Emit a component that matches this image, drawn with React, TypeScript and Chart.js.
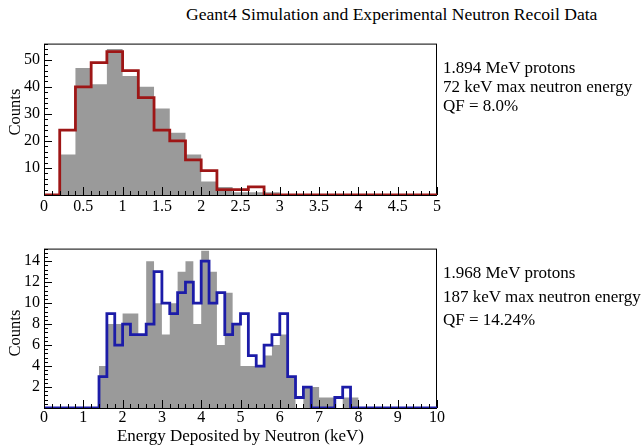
import React, { useEffect, useRef } from 'react';
import { Chart, registerables } from 'chart.js';

Chart.register(...registerables);

// ---------- data ----------
const BIN_WIDTH = 0.2;

// top panel (1.894 MeV protons), bins of 0.2 keV starting at 0
const TOP_X_MAX = 5;
const TOP_Y_MAX = 56;
const TOP_SIM = [0, 15, 47, 41, 54, 44, 40, 32, 23, 15, 5, 3, 1, 1, 1, 0, 0, 0, 0, 0, 0, 0, 0, 0, 0];
const TOP_EXP = [0, 24, 40, 49, 53, 46, 36, 24, 20, 13, 9, 2, 2, 3, 0, 0, 0, 0, 0, 0, 0, 0, 0, 0, 0];
const TOP_X_LABELS = [0, 0.5, 1, 1.5, 2, 2.5, 3, 3.5, 4, 4.5, 5];
const TOP_X_MINOR = 0.1;
const TOP_Y_LABELS = [10, 20, 30, 40, 50];
const TOP_Y_MINOR = 2;
const TOP_NOTES = ['1.894 MeV protons', '72 keV max neutron energy', 'QF = 8.0%'];

// bottom panel (1.968 MeV protons)
const BOT_X_MAX = 10;
const BOT_Y_MAX = 15.2;
const BOT_SIM = [
  0, 0, 0, 0, 0, 0, 0, 4, 8, 8,
  9, 9, 7, 14, 10, 7, 10, 13, 14, 8,
  15, 13, 6, 11, 8, 4, 4, 4, 5, 6,
  7, 3, 0, 2, 2, 1, 1, 0, 1, 1,
  0, 0, 0, 0, 0, 0, 0, 0, 0, 0,
];
const BOT_EXP = [
  0, 0, 0, 0, 0, 0, 0, 3, 9, 6,
  8, 7, 7, 8, 13, 10, 9, 11, 12, 10,
  14, 10, 11, 7, 8, 9, 5, 4, 6, 7,
  9, 3, 1, 2, 0, 0, 0, 1, 2, 0,
  0, 0, 0, 0, 0, 0, 0, 0, 0, 0,
];
const BOT_X_LABELS = [0, 1, 2, 3, 4, 5, 6, 7, 8, 9, 10];
const BOT_X_MINOR = 0.2;
const BOT_Y_LABELS = [2, 4, 6, 8, 10, 12, 14];
const BOT_Y_MINOR = 0.4;
const BOT_NOTES = ['1.968 MeV protons', '187 keV max neutron energy', 'QF = 14.24%'];

const TITLE = 'Geant4 Simulation and Experimental Neutron Recoil Data';
const X_TITLE = 'Energy Deposited by Neutron (keV)';
const Y_TITLE = 'Counts';

const SERIF = "'Liberation Serif', 'DejaVu Serif', serif";

function toSteps(values: number[], xMax: number) {
  const pts = values.map((v, i) => ({ x: +(i * BIN_WIDTH).toFixed(4), y: v }));
  pts.push({ x: xMax, y: values[values.length - 1] });
  return pts;
}

const isIn = (v: number, list: number[]) => list.some((l) => Math.abs(l - v) < 1e-6);

const frameTicksPlugin = {
  id: 'frameTicks',
  beforeDatasetsDraw(chart: any) {
    const { ctx, chartArea } = chart;
    ctx.save();
    ctx.strokeStyle = '#000';
    ctx.lineWidth = 1;
    ctx.strokeRect(chartArea.left + 0.5, chartArea.top + 0.5, chartArea.right - chartArea.left - 1, chartArea.bottom - chartArea.top);
    ctx.restore();
  },
  afterDatasetsDraw(chart: any, _args: any, opts: any) {
    const { ctx, chartArea } = chart;
    const xs = chart.scales.x;
    const ys = chart.scales.y;
    ctx.save();
    ctx.strokeStyle = '#000';
    ctx.lineWidth = 1;
    ctx.beginPath();
    xs.ticks.forEach((t: any) => {
      const px = Math.round(xs.getPixelForValue(t.value)) + 0.5;
      const len = isIn(t.value, opts.xMajor) ? 8 : 4;
      ctx.moveTo(px, chartArea.bottom);
      ctx.lineTo(px, chartArea.bottom - len);
    });
    ys.ticks.forEach((t: any) => {
      const py = Math.round(ys.getPixelForValue(t.value)) + 0.5;
      const len = isIn(t.value, opts.yMajor) ? 8 : 4;
      ctx.moveTo(chartArea.left, py);
      ctx.lineTo(chartArea.left + len, py);
    });
    ctx.stroke();
    ctx.beginPath();
    ctx.moveTo(chartArea.left, Math.round(chartArea.bottom) + 0.5);
    ctx.lineTo(chartArea.right, Math.round(chartArea.bottom) + 0.5);
    ctx.stroke();
    ctx.restore();
  },
};

type PanelProps = {
  sim: number[];
  exp: number[];
  color: string;
  xMax: number;
  yMax: number;
  xLabels: number[];
  xMinor: number;
  yLabels: number[];
  yMinor: number;
  width: number;
  height: number;
  xPad: number;
};

function Panel(p: PanelProps) {
  const ref = useRef<HTMLCanvasElement>(null);
  useEffect(() => {
    if (!ref.current) return;
    const fmt = (v: number) => String(+v.toFixed(2));
    const chart = new Chart(ref.current, {
      type: 'line',
      data: {
        datasets: [
          {
            data: toSteps(p.exp, p.xMax),
            stepped: true,
            borderColor: p.color,
            borderWidth: 2.8,
            pointRadius: 0,
            fill: false,
            order: 0,
          },
          {
            data: toSteps(p.sim, p.xMax),
            stepped: true,
            borderColor: 'rgba(0,0,0,0)',
            borderWidth: 0,
            backgroundColor: '#9a9a9a',
            pointRadius: 0,
            fill: 'origin',
            order: 1,
          },
        ],
      },
      options: {
        responsive: false,
        animation: false,
        events: [],
        layout: { padding: { top: 8, right: 8, left: 0, bottom: 0 } },
        plugins: {
          legend: { display: false },
          tooltip: { enabled: false },
          frameTicks: { xMajor: p.xLabels, yMajor: p.yLabels },
        } as any,
        scales: {
          x: {
            type: 'linear',
            min: 0,
            max: p.xMax,
            grid: { display: false, drawTicks: false },
            border: { display: false },
            ticks: {
              stepSize: p.xMinor,
              autoSkip: false,
              maxRotation: 0,
              padding: p.xPad,
              color: '#000',
              font: { family: SERIF, size: 16 },
              callback: (v: any) => (isIn(+v, p.xLabels) ? fmt(+v) : ''),
            },
            afterFit: (s: any) => {
              s.height = 20;
            },
          },
          y: {
            type: 'linear',
            min: 0,
            max: p.yMax,
            grid: { display: false, drawTicks: false },
            border: { display: false },
            ticks: {
              stepSize: p.yMinor,
              autoSkip: false,
              padding: 4,
              color: '#000',
              font: { family: SERIF, size: 16 },
              callback: (v: any) => (isIn(+v, p.yLabels) ? fmt(+v) : ''),
            },
            afterFit: (s: any) => {
              s.width = 44;
            },
          },
        },
      },
      plugins: [frameTicksPlugin],
    });
    return () => chart.destroy();
  }, []);
  return <canvas ref={ref} width={p.width} height={p.height} style={{ width: p.width, height: p.height, display: 'block' }} />;
}

const textStyle: React.CSSProperties = {
  position: 'absolute',
  fontFamily: SERIF,
  fontSize: 17,
  lineHeight: '18px',
  whiteSpace: 'nowrap',
  color: '#000',
};

export default function App() {
  return (
    <div style={{ position: 'fixed', left: 0, top: 0, width: 642, height: 446, background: '#fff', overflow: 'hidden' }}>
      <div style={{ ...textStyle, fontSize: 17.6, left: 186, top: 5 }}>{TITLE}</div>

      <div style={{ position: 'absolute', left: 0, top: 30 }}>
        <Panel sim={TOP_SIM} exp={TOP_EXP} color="#9e1616" xMax={TOP_X_MAX} yMax={TOP_Y_MAX}
          xLabels={TOP_X_LABELS} xMinor={TOP_X_MINOR} yLabels={TOP_Y_LABELS} yMinor={TOP_Y_MINOR}
          width={445} height={185} xPad={2} />
      </div>
      <div style={{ position: 'absolute', left: 0, top: 235 }}>
        <Panel sim={BOT_SIM} exp={BOT_EXP} color="#1c1ca8" xMax={BOT_X_MAX} yMax={BOT_Y_MAX}
          xLabels={BOT_X_LABELS} xMinor={BOT_X_MINOR} yLabels={BOT_Y_LABELS} yMinor={BOT_Y_MINOR}
          width={445} height={193} xPad={0} />
      </div>

      <div style={{ ...textStyle, fontSize: 16.5, left: 15 - 9, top: 112 - 30, width: 18, height: 60, display: 'flex', alignItems: 'center', justifyContent: 'center' }}>
        <span style={{ transform: 'rotate(-90deg)', display: 'inline-block' }}>{Y_TITLE}</span>
      </div>
      <div style={{ ...textStyle, fontSize: 16.5, left: 15 - 9, top: 333 - 30, width: 18, height: 60, display: 'flex', alignItems: 'center', justifyContent: 'center' }}>
        <span style={{ transform: 'rotate(-90deg)', display: 'inline-block' }}>{Y_TITLE}</span>
      </div>

      <div style={{ ...textStyle, left: 44, width: 393, top: 427, textAlign: 'center' }}>{X_TITLE}</div>

      {TOP_NOTES.map((t, i) => (
        <div key={'t' + i} style={{ ...textStyle, left: 443, top: 59 + i * 19 }}>{t}</div>
      ))}
      {BOT_NOTES.map((t, i) => (
        <div key={'b' + i} style={{ ...textStyle, left: 443, top: 264 + i * 23.5 }}>{t}</div>
      ))}
    </div>
  );
}
